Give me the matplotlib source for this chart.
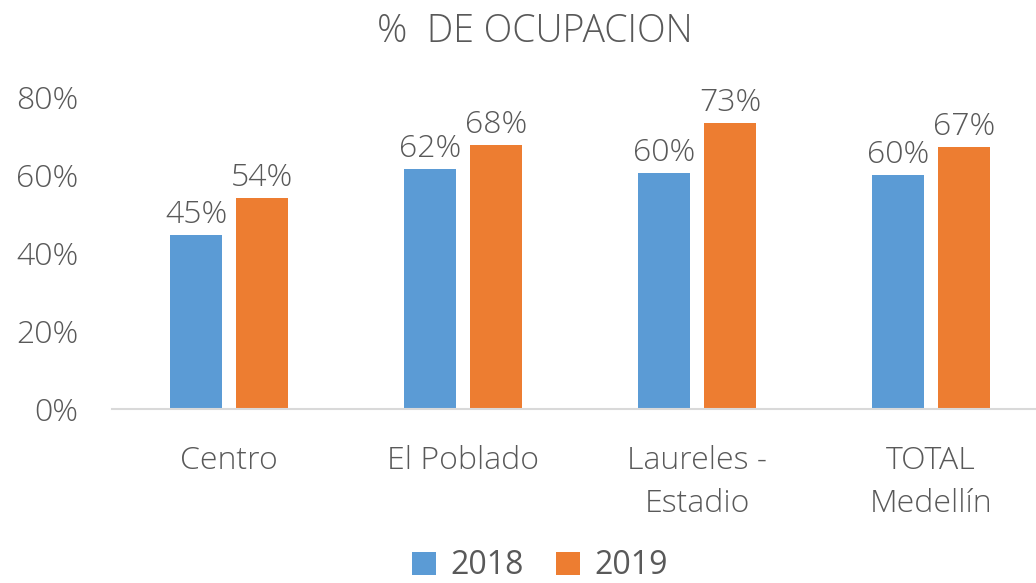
import matplotlib.pyplot as plt
import numpy as np

# Ocupación por zona (valores en %)
categories = ["Centro", "El Poblado", "Laureles -\nEstadio", "TOTAL\nMedellín"]
values_2018 = [44.6, 61.5, 60.4, 60.0]
values_2019 = [54.1, 67.7, 73.4, 67.2]
labels_2018 = ["45%", "62%", "60%", "60%"]
labels_2019 = ["54%", "68%", "73%", "67%"]
yticks = [0, 20, 40, 60, 80]

blue = "#5B9BD5"
orange = "#ED7D31"
gray = "#595959"

plt.rcParams['font.family'] = ['Open Sans', 'DejaVu Sans']

fig = plt.figure(figsize=(10.36, 5.83), dpi=100)
W, H = 1036, 583
ax = fig.add_axes([112 / W, 1 - 409 / H, 936 / W, (409 - 97) / H])

x = np.arange(len(categories))
bw = 0.222
off = 0.141
b1 = ax.bar(x - off, values_2018, bw, color=blue, label="2018")
b2 = ax.bar(x + off, values_2019, bw, color=orange, label="2019")

for bars, labs in ((b1, labels_2018), (b2, labels_2019)):
    for rect, lab in zip(bars, labs):
        ax.annotate(lab, (rect.get_x() + rect.get_width() / 2, rect.get_height()),
                    xytext=(0, 3), textcoords="offset points", ha="center", va="bottom",
                    fontsize=23, color=gray, fontweight="light")

ax.set_xlim(-0.5, len(categories) - 0.5)
ax.set_ylim(0, 80)
ax.set_yticks(yticks)
ax.set_yticklabels([f"{t}%" for t in yticks], fontsize=23, color=gray, fontweight="light")
ax.set_xticks(x)
ax.set_xticklabels(categories, fontsize=23, color=gray, fontweight="light", linespacing=1.45)
ax.tick_params(axis="both", length=0)
ax.tick_params(axis="y", pad=24)
ax.tick_params(axis="x", pad=26)

for s in ("top", "right", "left"):
    ax.spines[s].set_visible(False)
ax.spines["bottom"].set_color("#D9D9D9")
ax.spines["bottom"].set_linewidth(1.5)

fig.text(535 / W, 1 - 32 / H, "%  DE OCUPACION", ha="center", va="center",
         fontsize=27, color=gray, fontweight="light")

fig.legend(handles=[b1, b2], loc="center", bbox_to_anchor=(540 / W, 1 - 566 / H),
           ncol=2, frameon=False, fontsize=23, labelcolor=gray,
           handlelength=0.75, handleheight=0.75, handletextpad=0.45, columnspacing=1.0)

plt.savefig("out.png", dpi=100)
